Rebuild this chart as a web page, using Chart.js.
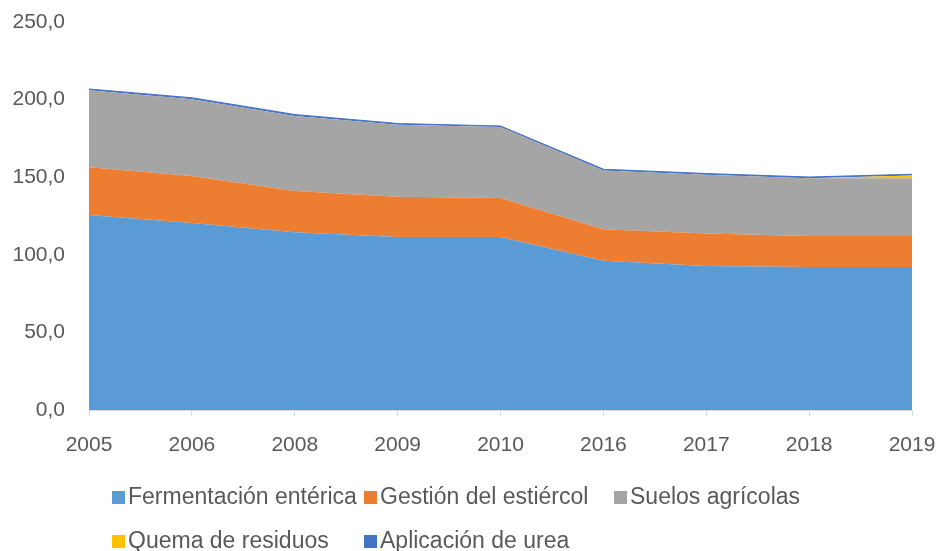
<!DOCTYPE html>
<html>
<head>
<meta charset="utf-8">
<script src="https://cdn.jsdelivr.net/npm/chart.js@4/dist/chart.umd.min.js"></script>
<style>
  html, body { margin: 0; padding: 0; background: #fff; }
  #wrap { width: 939px; height: 551px; }
</style>
</head>
<body>
<div id="wrap"><canvas id="myChart"></canvas></div>
<script>
var years = ['2005', '2006', '2008', '2009', '2010', '2016', '2017', '2018', '2019'];
var fermentacion = [125.6, 120.5, 114.5, 111.5, 111.5, 96.2, 92.8, 92.1, 92.1];
var estiercol = [30.8, 30.3, 26.6, 25.9, 25.1, 20.2, 21.0, 20.0, 20.0];
var suelos = [49.6, 49.5, 48.4, 46.4, 45.7, 37.9, 37.7, 37.2, 37.2];
var quema = [0, 0, 0, 0, 0, 0, 0, 0, 1.8];
var urea = [0.8, 0.8, 0.8, 0.8, 0.7, 0.8, 0.8, 0.8, 0.8];
var yTicks = [0, 50, 100, 150, 200, 250];

var seriesNames = ['Fermentación entérica', 'Gestión del estiércol', 'Suelos agrícolas', 'Quema de residuos', 'Aplicación de urea'];
var seriesColors = ['#5B9BD5', '#ED7D31', '#A5A5A5', '#FFC000', '#4472C4'];
var seriesData = [fermentacion, estiercol, suelos, quema, urea];

var textColor = '#595959';
var fontFamily = '"Liberation Sans", Arial, sans-serif';

// legend drawn in Excel-like columns
var legendSlots = [
  { x: 112, y: 497 }, { x: 364, y: 497 }, { x: 614, y: 497 },
  { x: 112, y: 541 }, { x: 364, y: 541 }
];

var excelLegend = {
  id: 'excelLegend',
  afterDraw: function (chart) {
    var ctx = chart.ctx;
    ctx.save();
    ctx.font = '23px ' + fontFamily;
    ctx.textBaseline = 'middle';
    ctx.textAlign = 'left';
    for (var i = 0; i < seriesNames.length; i++) {
      var s = legendSlots[i];
      ctx.fillStyle = seriesColors[i];
      ctx.fillRect(s.x, s.y - 6, 13, 13);
      ctx.fillStyle = textColor;
      ctx.fillText(seriesNames[i], s.x + 16, s.y + 1);
    }
    ctx.restore();
  }
};

var datasets = [];
for (var i = 0; i < seriesNames.length; i++) {
  datasets.push({
    label: seriesNames[i],
    data: seriesData[i],
    backgroundColor: seriesColors[i],
    borderColor: seriesColors[i],
    borderWidth: i === 4 ? 1.2 : 0,
    pointRadius: 0,
    tension: 0,
    fill: i === 0 ? 'origin' : '-1'
  });
}

var ctx = document.getElementById('myChart');
new Chart(ctx, {
  type: 'line',
  data: { labels: years, datasets: datasets },
  plugins: [excelLegend],
  options: {
    responsive: true,
    maintainAspectRatio: false,
    animation: false,
    layout: { padding: { left: 12, right: 27, top: 22, bottom: 93 } },
    plugins: {
      legend: { display: false },
      tooltip: { enabled: false }
    },
    scales: {
      x: {
        offset: false,
        afterFit: function (axis) {
          axis.height = 48;
          axis.paddingLeft = 0;
          axis.paddingRight = 0;
        },
        grid: { display: true, drawOnChartArea: false, color: '#D9D9D9', tickLength: 6 },
        border: { display: true, color: '#D9D9D9' },
        ticks: { color: textColor, font: { family: fontFamily, size: 21 }, padding: 17, maxRotation: 0 }
      },
      y: {
        stacked: true,
        min: 0,
        max: 250,
        afterBuildTicks: function (axis) {
          axis.ticks = yTicks.map(function (v) { return { value: v }; });
        },
        afterFit: function (axis) {
          axis.width = 77;
          axis.paddingTop = 0;
          axis.paddingBottom = 0;
        },
        grid: { display: false },
        border: { display: false },
        ticks: {
          color: textColor,
          font: { family: fontFamily, size: 21 },
          padding: 16,
          callback: function (v) { return v.toFixed(1).replace('.', ','); }
        }
      }
    }
  }
});
</script>
</body>
</html>
